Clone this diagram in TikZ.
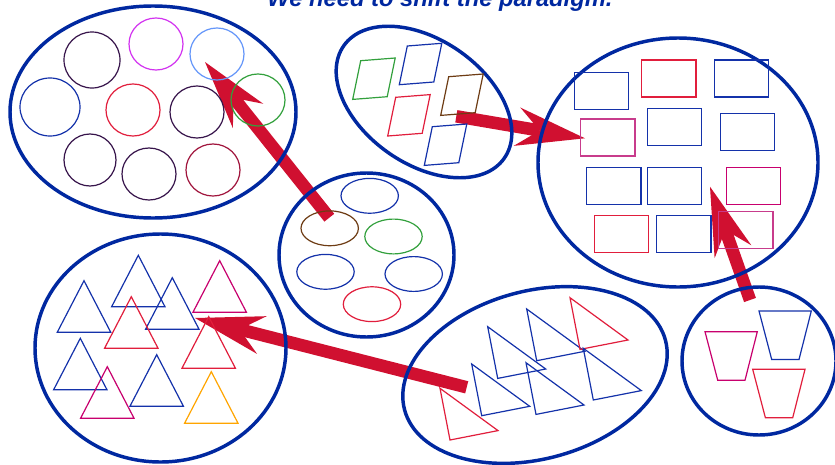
\documentclass[tikz,border=0pt]{standalone}
\usepackage{fontspec}
\setmainfont{Liberation Sans}
\usetikzlibrary{calc}
\definecolor{ebl}{RGB}{0,40,160}
\definecolor{dpur}{RGB}{55,20,75}
\definecolor{mag}{RGB}{210,50,240}
\definecolor{lblue}{RGB}{100,150,250}
\definecolor{grn}{RGB}{50,160,60}
\definecolor{sblue}{RGB}{20,50,170}
\definecolor{sred}{RGB}{225,30,60}
\definecolor{dred}{RGB}{160,20,60}
\definecolor{brn}{RGB}{110,60,20}
\definecolor{arr}{RGB}{208,16,48}
\definecolor{pmag}{RGB}{200,0,110}
\definecolor{pinkr}{RGB}{200,60,140}
\definecolor{orng}{RGB}{255,165,0}
\newcommand\mypara[3]{\draw[thinshape,#3] (#1,#2) -- ++(34.5,-2.7) -- ++(-8,38.7) -- ++(-34.5,2.7) -- cycle;}
\newcommand\mytri[3]{\draw[thinshape,#3] (#1,#2) -- ++(26.7,51.5) -- ++(-53.4,0) -- cycle;}
\newcommand\myrtri[3]{\draw[thinshape,#3] (#1,#2) -- ++(58,42.3) -- ++(-48,9.4) -- cycle;}
\newcommand\mytrap[3]{\draw[thinshape,#3] (#1,#2) -- ++(52.3,0) -- ++(-12.3,48.5) -- ++(-27.3,0) -- cycle;}
\newcommand\myrect[3]{\draw[thinshape,#3] (#1,#2) rectangle ++(54.3,37);}
\newcommand\myring[5]{\draw[thinshape,#5] (#1,#2) ellipse[x radius=#3,y radius=#4];}
\newcommand\redarrow[2]{%
  \coordinate (#2-b) at ($(#2)!51.75pt!(#1)$);
  \coordinate (#2-n) at ($(#2)!34.5pt!(#1)$);
  \draw[arr, line width=9.4pt] (#1) -- (#2-n);
  \fill[arr] (#2) -- ($(#2-b)!14.6pt!90:(#2)$) -- (#2-n) -- ($(#2-b)!14.6pt!-90:(#2)$) -- cycle;}
\tikzset{thinshape/.style={line width=0.9pt},
  bigshape/.style={draw=ebl,line width=2.6pt}}
\begin{document}
\begin{tikzpicture}[x=0.75pt,y=-0.75pt]
\useasboundingbox (0,0) rectangle (835,464);
\fill[white] (0,0) rectangle (835,464);
% title
\node[anchor=base,text=ebl,font=\fontsize{17.8}{20}\selectfont\bfseries\itshape,inner sep=0] (title) at (440,6.5) {We need to shift the paradigm.};
% arrow end points
\coordinate (s1) at (329.3,217.7); \coordinate (t1) at (205,62);
\coordinate (s2) at (456.3,116.3); \coordinate (t2) at (585,138.3);
\coordinate (s3) at (750,300);     \coordinate (t3) at (710,186.7);
\coordinate (s4) at (466.7,387.3); \coordinate (t4) at (195,318);
\redarrow{s1}{t1}
\redarrow{s2}{t2}
\redarrow{s3}{t3}
\redarrow{s4}{t4}
% top-left group: circles
\coordinate (cA) at (153,112);
\draw[bigshape] (cA) ellipse[x radius=143,y radius=106];
\myring{92}{60}{28}{28}{dpur}
\myring{156}{44}{27}{26}{mag}
\myring{217}{54}{27}{26}{lblue}
\myring{258}{100}{27}{26}{grn}
\myring{50}{107}{30}{29}{sblue}
\myring{133}{110}{27}{26}{sred}
\myring{197}{112}{27}{26}{dpur}
\myring{90}{160}{26}{26}{dpur}
\myring{149}{174}{27}{26}{dpur}
\myring{213}{170}{27}{26}{dred}
% top-middle group: parallelograms
\coordinate (cB) at (424,102);
\begin{scope}[shift={(cB)},rotate=-35]
\draw[bigshape] (0,0) ellipse[x radius=98,y radius=62];
\end{scope}
\mypara{360.7}{60.7}{grn}
\mypara{407.3}{46}{sblue}
\mypara{448.7}{76.7}{brn}
\mypara{395.7}{97.3}{sred}
\mypara{432.3}{126.7}{sblue}
% right group: rectangles
\coordinate (cC) at (678,162.5);
\draw[bigshape] (cC) ellipse[x radius=140,y radius=124.5];
\myrect{574.3}{72.3}{sblue}
\myrect{641.7}{60}{sred}
\myrect{714.3}{60}{sblue}
\myrect{580.7}{119}{pinkr}
\myrect{647.3}{108.3}{sblue}
\myrect{720.3}{113.3}{sblue}
\myrect{586.7}{167.3}{sblue}
\myrect{647.3}{167.3}{sblue}
\myrect{726.3}{167.3}{pmag}
\myrect{594.3}{215.3}{sred}
\myrect{656.7}{215.3}{sblue}
\myrect{718.7}{211.7}{pinkr}
% middle group: small ellipses
\coordinate (cD) at (366.5,255);
\draw[bigshape] (cD) ellipse[x radius=87.5,y radius=82];
\myring{369.7}{195.8}{28.7}{17.4}{sblue}
\myring{329.7}{228.3}{28.7}{17.4}{brn}
\myring{393.5}{236.5}{28.7}{17.4}{grn}
\myring{325.5}{271.8}{28.7}{17.4}{sblue}
\myring{413.7}{274}{28.7}{17.4}{sblue}
\myring{372}{304.2}{28.7}{17.4}{sred}
% bottom-left group: triangles
\coordinate (cE) at (160.5,348);
\draw[bigshape] (cE) ellipse[x radius=125.5,y radius=114];
\mytri{84}{280.7}{sblue}
\mytri{138.3}{255.3}{sblue}
\mytri{172.3}{277.7}{sblue}
\mytri{219.7}{260.7}{pmag}
\mytri{131.3}{296.7}{sred}
\mytri{208.7}{316.7}{sred}
\mytri{80.3}{338.3}{sblue}
\mytri{107.3}{366.7}{pmag}
\mytri{156.7}{354.7}{sblue}
\mytri{211.3}{371.7}{orng}
% bottom-middle group: right triangles
\coordinate (cF) at (535,375);
\begin{scope}[shift={(cF)},rotate=15]
\draw[bigshape] (0,0) ellipse[x radius=135,y radius=84];
\end{scope}
\myrtri{440}{388.3}{sred}
\myrtri{471.7}{364}{sblue}
\myrtri{487.7}{326.7}{sblue}
\myrtri{526}{362.7}{sblue}
\myrtri{526.7}{309}{sblue}
\myrtri{570}{297.7}{sred}
\myrtri{583.3}{348.3}{sblue}
% bottom-right group: trapezoids
\coordinate (cG) at (759,361);
\draw[bigshape] (cG) ellipse[x radius=77,y radius=74];
\mytrap{705}{331.7}{pmag}
\mytrap{759}{311}{sblue}
\mytrap{752.7}{369.3}{sred}
\end{tikzpicture}
\end{document}
